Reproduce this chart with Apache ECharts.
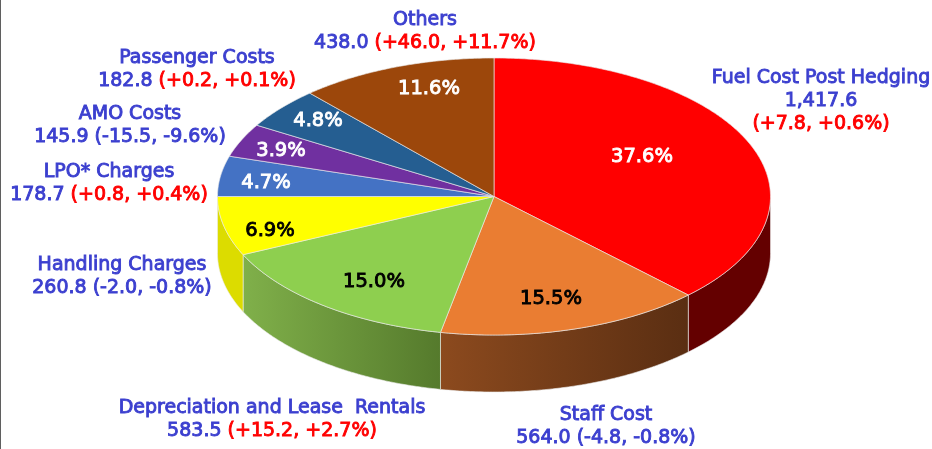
<!DOCTYPE html>
<html>
<head>
<meta charset="utf-8">
<title>Cost breakdown</title>
<script src="https://cdn.jsdelivr.net/npm/echarts@6/dist/echarts.min.js"></script>
<style>
    html, body { margin: 0; padding: 0; background: #fff; }
    #chart { position: absolute; left: 0; top: 0; width: 932px; height: 449px; }
    #edge { position: absolute; left: 0; top: 0; width: 1px; height: 449px; background: #5f5f5f; z-index: 2; }
</style>
</head>
<body>
<div id="chart"></div>
<div id="edge"></div>
<script>
// data, clockwise from 12 o'clock
var names = ['Fuel Cost Post Hedging', 'Staff Cost', 'Depreciation and Lease  Rentals', 'Handling Charges', 'LPO* Charges', 'AMO Costs', 'Passenger Costs', 'Others'];
var shares = [37.6, 15.5, 15.0, 6.9, 4.7, 3.9, 4.8, 11.6];
var amounts = ['1,417.6', '564.0', '583.5', '260.8', '178.7', '145.9', '182.8', '438.0'];
var changes = [7.8, -4.8, 15.2, -2.0, 0.8, -15.5, 0.2, 46.0];
var changePcts = [0.6, -0.8, 2.7, -0.8, 0.4, -9.6, 0.1, 11.7];

// styles and layout
var topColors = ['#ff0000', '#ea7d32', '#8ecf4f', '#ffff00', '#4472c4', '#7030a0', '#255e91', '#9c470b'];
var wallColors = [['#640000', '#640000'], ['#8c4a1e', '#5a2e12'], ['#80b04a', '#557a2c'], ['#dcdc00', '#dcdc00'],
    ['#4472c4', '#4472c4'], ['#7030a0', '#7030a0'], ['#255e91', '#255e91'], ['#9c470b', '#9c470b']];
var pctColors = ['#fff', '#000', '#000', '#000', '#fff', '#fff', '#fff', '#fff'];
var pctPos = [[642, 156.5], [551, 298.5], [374, 281.5], [270, 230.5], [266, 182.5], [281, 150.5], [318, 120.5], [429, 88.5]];
var namePos = [[821, 101], [606, 427], [272, 420], [122, 277], [109, 184], [130, 126], [197, 70], [425, 32]];

var cx = 494, cy = 196.5, rx = 276.5, ry = 138.5, depth = 57;
var fontFamily = '"DejaVu Sans", sans-serif';
var total = shares.reduce(function (a, b) { return a + b; }, 0);

function pt(a, dy) {
    return [cx + rx * Math.sin(a), cy - ry * Math.cos(a) + (dy || 0)];
}

function arc(a0, a1, dy) {
    var n = Math.max(2, Math.ceil((a1 - a0) / 0.01)), list = [];
    for (var i = 0; i <= n; i++) {
        list.push(pt(a0 + (a1 - a0) * i / n, dy));
    }
    return list;
}

function signed(v) {
    return (v >= 0 ? '+' : '') + v.toFixed(1);
}

function labelText(i) {
    var up = changes[i] >= 0;
    var style = up ? 'r' : 'b';
    var change = '{' + style + '|(' + signed(changes[i]) + ', ' + signed(changePcts[i]) + '%)}';
    return '{b|' + names[i] + '}\n{b|' + amounts[i] + '}' + (i === 0 ? '\n' : '{b| }') + change;
}

function renderSlice(params, api) {
    var i = params.dataIndex;
    var before = 0;
    for (var k = 0; k < i; k++) before += shares[k];
    var a0 = before / total * Math.PI * 2;
    var a1 = (before + api.value(0)) / total * Math.PI * 2;
    var children = [];

    // side wall, only the front half of the rim shows
    var w0 = Math.max(a0, Math.PI / 2), w1 = Math.min(a1, Math.PI * 1.5);
    if (w1 > w0) {
        children.push({
            type: 'polygon',
            shape: { points: arc(w0, w1, 0).concat(arc(w0, w1, depth).reverse()) },
            style: {
                fill: new echarts.graphic.LinearGradient(0, 0, 1, 0, [
                    { offset: 0, color: wallColors[i][0] },
                    { offset: 1, color: wallColors[i][1] }
                ]),
                stroke: 'rgba(235,235,235,0.75)',
                lineWidth: 0.8
            }
        });
    }

    // top face
    children.push({
        type: 'polygon',
        shape: { points: [[cx, cy]].concat(arc(a0, a1, 0)) },
        style: { fill: topColors[i], stroke: 'rgba(235,235,235,0.8)', lineWidth: 0.8 }
    });

    children.push({
        type: 'text',
        z2: 10,
        style: {
            text: shares[i].toFixed(1) + '%',
            x: pctPos[i][0],
            y: pctPos[i][1],
            align: 'center',
            verticalAlign: 'middle',
            fill: pctColors[i],
            stroke: pctColors[i],
            lineWidth: 0.9,
            font: '19.5px ' + fontFamily
        }
    });

    children.push({
        type: 'text',
        z2: 10,
        style: {
            text: labelText(i),
            x: namePos[i][0],
            y: namePos[i][1],
            align: 'center',
            verticalAlign: 'middle',
            rich: {
                b: { fill: '#3b3fcf', stroke: '#3b3fcf', lineWidth: 0.9, font: '19px ' + fontFamily, lineHeight: 23 },
                r: { fill: '#ff0000', stroke: '#ff0000', lineWidth: 0.9, font: '19px ' + fontFamily, lineHeight: 23 }
            }
        }
    });

    return { type: 'group', children: children };
}

var chart = echarts.init(document.getElementById('chart'));
chart.setOption({
    animation: false,
    backgroundColor: '#fff',
    series: [{
        type: 'custom',
        coordinateSystem: 'none',
        silent: true,
        renderItem: renderSlice,
        data: shares.map(function (s) { return [s]; })
    }]
});
</script>
</body>
</html>
